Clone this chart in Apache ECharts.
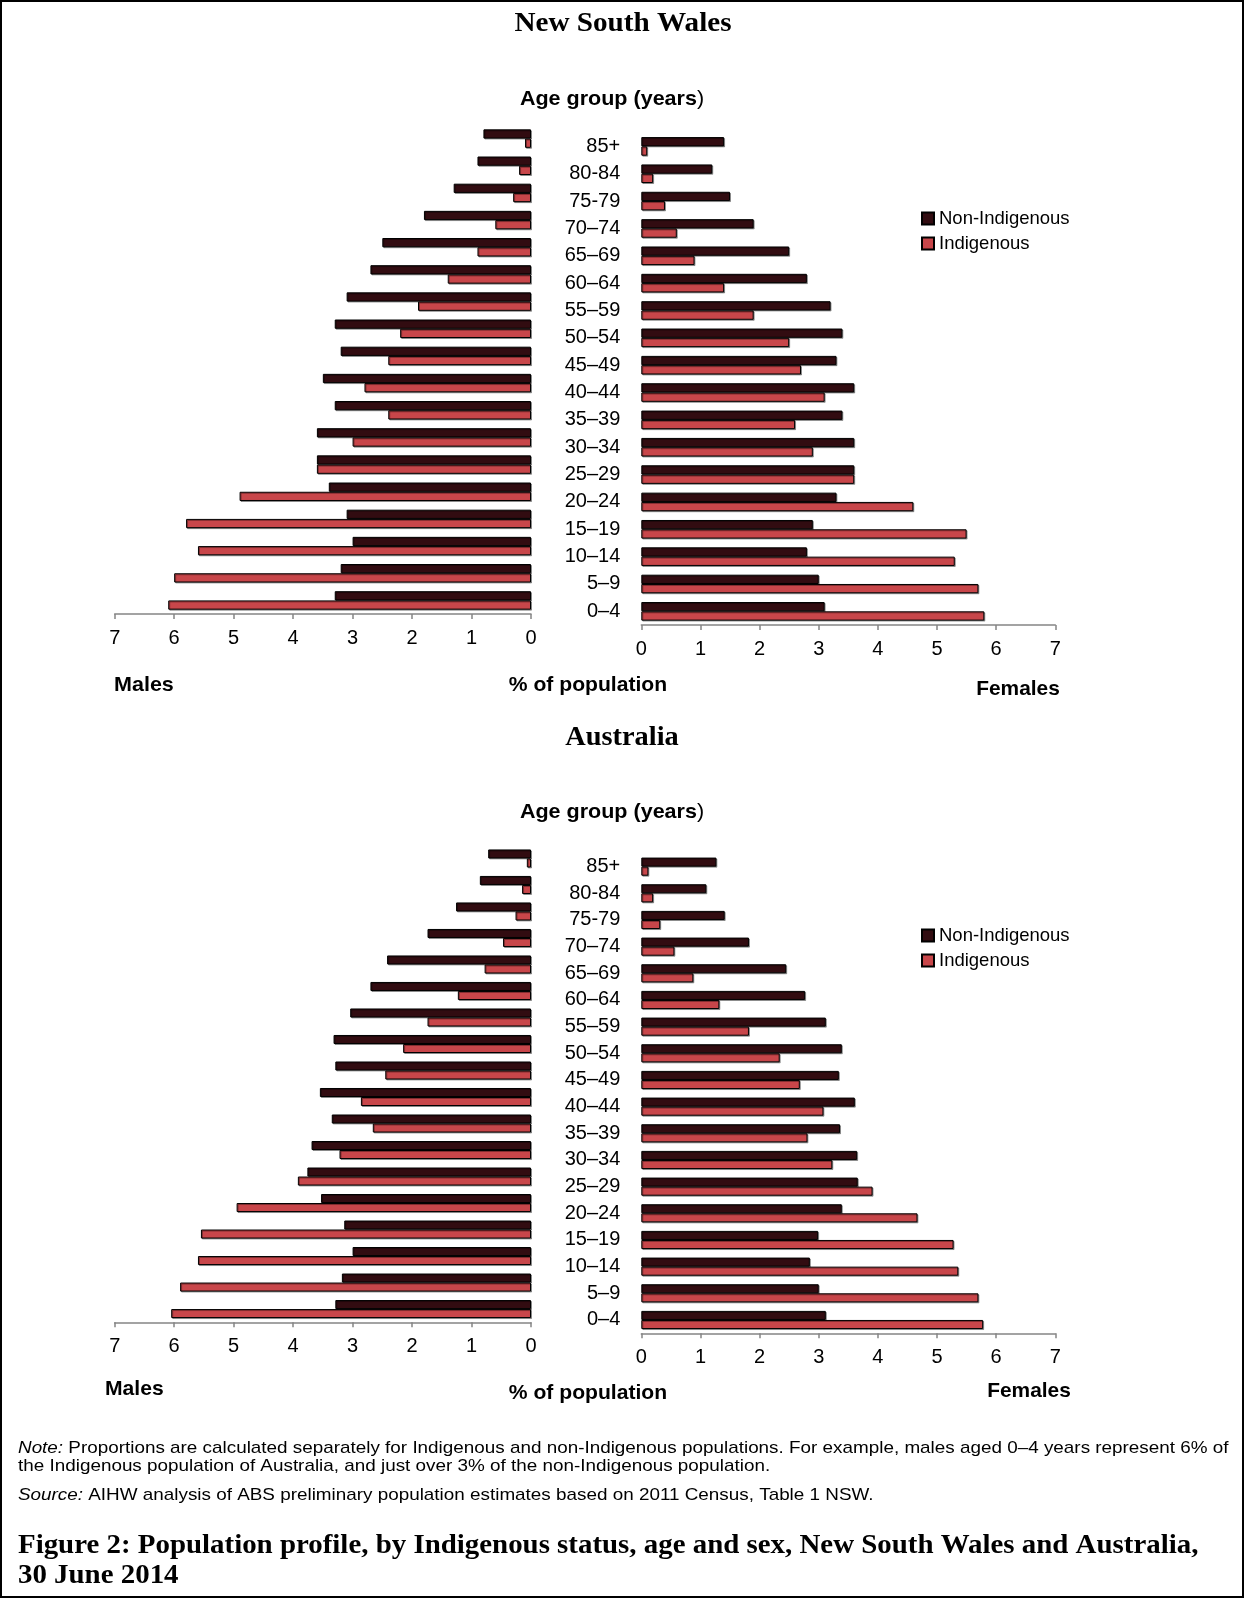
<!DOCTYPE html>
<html><head><meta charset="utf-8">
<script src="https://cdn.jsdelivr.net/npm/echarts@6/dist/echarts.min.js"></script>
<style>html,body{margin:0;padding:0;background:#fff}#c{width:1244px;height:1598px}</style>
</head><body><div id="c"></div>
<script>
// Age groups, bottom (youngest) to top (oldest)
const ageGroups = ['0–4','5–9','10–14','15–19','20–24','25–29','30–34','35–39','40–44','45–49','50–54','55–59','60–64','65–69','70–74','75-79','80-84','85+'];
const xTicks = [0,1,2,3,4,5,6,7];
const seriesNames = ['Non-Indigenous','Indigenous'];

// New South Wales (% of population)
const nswMaleNonIndig   = [3.3,3.2,3.0,3.1,3.4,3.6,3.6,3.3,3.5,3.2,3.3,3.1,2.7,2.5,1.8,1.3,0.9,0.8];
const nswMaleIndig      = [6.1,6.0,5.6,5.8,4.9,3.6,3.0,2.4,2.8,2.4,2.2,1.9,1.4,0.9,0.6,0.3,0.2,0.1];
const nswFemaleNonIndig = [3.1,3.0,2.8,2.9,3.3,3.6,3.6,3.4,3.6,3.3,3.4,3.2,2.8,2.5,1.9,1.5,1.2,1.4];
const nswFemaleIndig    = [5.8,5.7,5.3,5.5,4.6,3.6,2.9,2.6,3.1,2.7,2.5,1.9,1.4,0.9,0.6,0.4,0.2,0.1];

// Australia (% of population)
const ausMaleNonIndig   = [3.29,3.18,3.00,3.14,3.53,3.76,3.69,3.35,3.55,3.29,3.32,3.04,2.70,2.42,1.74,1.26,0.86,0.72];
const ausMaleIndig      = [6.05,5.90,5.60,5.55,4.95,3.92,3.22,2.66,2.86,2.45,2.15,1.74,1.23,0.78,0.47,0.26,0.15,0.07];
const ausFemaleNonIndig = [3.12,3.00,2.85,2.99,3.39,3.66,3.65,3.36,3.61,3.34,3.39,3.12,2.77,2.45,1.82,1.41,1.10,1.27];
const ausFemaleIndig    = [5.78,5.70,5.36,5.28,4.67,3.91,3.23,2.81,3.08,2.68,2.34,1.82,1.32,0.88,0.56,0.32,0.20,0.12];

const SANS = '"Liberation Sans", Arial, sans-serif';
const SERIF = '"Liberation Serif", "Times New Roman", serif';
const NON_COLOR = '#320C11';
const IND_COLOR = '#C8464A';

const grids = [
  {left:114.7, top:125,   width:416.3, height:489},
  {left:641.3, top:132.7, width:414,   height:492.3},
  {left:114.7, top:845.2, width:416.3, height:477.1},
  {left:641.3, top:853.3, width:414,   height:480}
].map(g => Object.assign({containLabel:false, outerBoundsMode:'none'}, g));

function xAx(i, inverse){
  return {
    type:'value', gridIndex:i, min:xTicks[0], max:xTicks[xTicks.length-1], interval:1, inverse:inverse,
    axisLine:{show:true, lineStyle:{color:'#858585', width:1.5}},
    axisTick:{show:true, length:5, lineStyle:{color:'#858585', width:1.5}},
    splitLine:{show:false},
    axisLabel:{color:'#000', fontSize:20, fontFamily:SANS, margin:14}
  };
}
function yAx(i, showLabels){
  return {
    type:'category', gridIndex:i, data:ageGroups,
    axisLine:{show:false}, axisTick:{show:false}, splitLine:{show:false},
    axisLabel:{show:showLabels, color:'#000', fontSize:20, fontFamily:SANS, margin:21, align:'right'}
  };
}
function barSeries(i, nonVals, indVals){
  const base = {type:'bar', xAxisIndex:i, yAxisIndex:i, barGap:'0%', barCategoryGap:'32%', animation:false};
  const style = c => ({color:c, borderColor:'#000', borderWidth:1,
    shadowColor:'rgba(0,0,0,0.35)', shadowOffsetX:1, shadowOffsetY:1, shadowBlur:0});
  return [
    Object.assign({name:seriesNames[0], data:nonVals, itemStyle:style(NON_COLOR)}, base),
    Object.assign({name:seriesNames[1], data:indVals, itemStyle:style(IND_COLOR)}, base)
  ];
}
function legend(top){
  return {
    data:seriesNames, orient:'vertical', left:916, top:top, icon:'rect',
    itemWidth:12, itemHeight:12, itemGap:6,
    textStyle:{color:'#000', fontSize:18.5, fontFamily:SANS, lineHeight:19},
    selectedMode:false
  };
}
function txt(x, y, text, font, align, sx){
  return {type:'text', x:x, y:y, scaleX:sx||1, silent:true,
    style:{text:text, font:font, fill:'#000', align:align||'center', verticalAlign:'middle'}};
}
function ageTitle(y){
  return {type:'text', x:612, y:y, scaleX:1.05, silent:true, style:{
    text:'{b|Age group (years}{n|)}', align:'center', verticalAlign:'middle', fill:'#000',
    rich:{b:{font:'bold 20.5px '+SANS, fill:'#000'}, n:{font:'20.5px '+SANS, fill:'#000'}}
  }};
}
function richLine(y, label, rest){
  return {type:'text', x:18, y:y, scaleX:1.11, silent:true, style:{
    text:'{i|'+label+'}'+rest, font:'17px '+SANS, fill:'#000', verticalAlign:'middle',
    rich:{i:{font:'italic 17px '+SANS, fill:'#000'}}}};
}
const BOLD = 'bold 20.5px ' + SANS;
const HEAD = 'bold 27px ' + SERIF;

const option = {
  backgroundColor:'#fff',
  animation:false,
  grid:grids,
  xAxis:[xAx(0,true), xAx(1,false), xAx(2,true), xAx(3,false)],
  yAxis:[yAx(0,false), yAx(1,true), yAx(2,false), yAx(3,true)],
  legend:[legend(204), legend(921)],
  series:[].concat(
    barSeries(0, nswMaleNonIndig, nswMaleIndig),
    barSeries(1, nswFemaleNonIndig, nswFemaleIndig),
    barSeries(2, ausMaleNonIndig, ausMaleIndig),
    barSeries(3, ausFemaleNonIndig, ausFemaleIndig)
  ),
  graphic:[
    {type:'rect', silent:true, shape:{x:1, y:1, width:1242, height:1596}, style:{fill:'none', stroke:'#000', lineWidth:2}},
    txt(623, 24, 'New South Wales', HEAD, 'center', 1.08),
    ageTitle(99),
    txt(114, 685, 'Males', BOLD, 'left', 1.05),
    txt(588, 685, '% of population', BOLD, 'center', 1.03),
    txt(1018, 689, 'Females', BOLD, 'center', 1.02),
    txt(622, 738, 'Australia', HEAD, 'center', 1.05),
    ageTitle(812),
    txt(105, 1389, 'Males', BOLD, 'left', 1.03),
    txt(588, 1393, '% of population', BOLD, 'center', 1.03),
    txt(1029, 1391, 'Females', BOLD, 'center', 1.02),
    richLine(1448, 'Note:', ' Proportions are calculated separately for Indigenous and non-Indigenous populations. For example, males aged 0–4 years represent 6% of'),
    txt(18, 1466, 'the Indigenous population of Australia, and just over 3% of the non-Indigenous population.', '17px '+SANS, 'left', 1.11),
    richLine(1495, 'Source:', ' AIHW analysis of ABS preliminary population estimates based on 2011 Census, Table 1 NSW.'),
    txt(18, 1546, 'Figure 2: Population profile, by Indigenous status, age and sex, New South Wales and Australia,', HEAD, 'left', 1.07),
    txt(18, 1576, '30 June 2014', HEAD, 'left', 1.07)
  ]
};
const chart = echarts.init(document.getElementById('c'), null, {renderer:'canvas', width:1244, height:1598});
chart.setOption(option);
</script></body></html>
